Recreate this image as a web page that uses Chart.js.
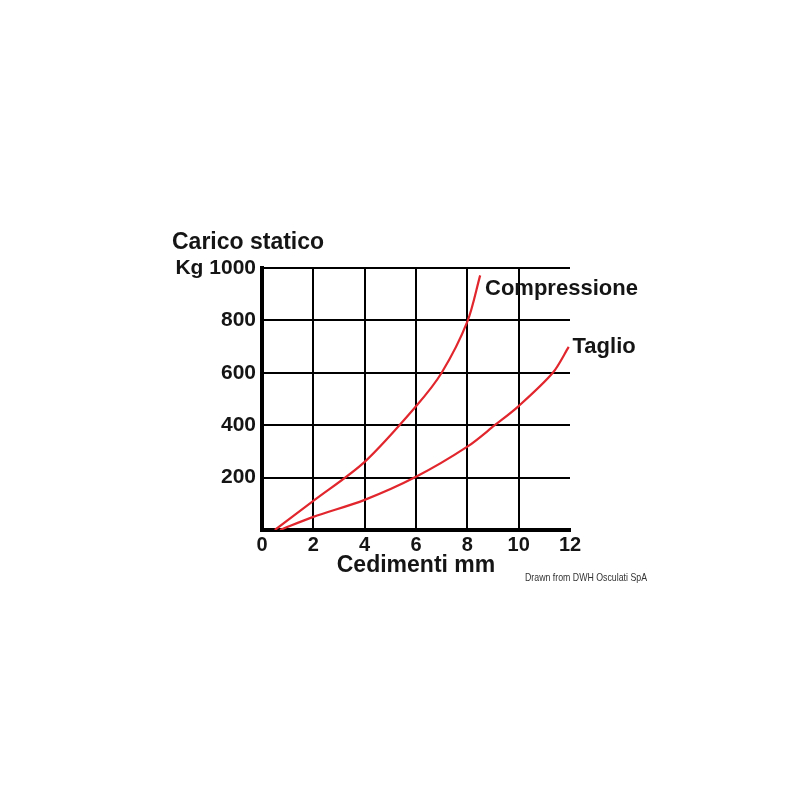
<!DOCTYPE html>
<html>
<head>
<meta charset="utf-8">
<script src="https://cdn.jsdelivr.net/npm/chart.js@4/dist/chart.umd.min.js"></script>
<style>
  html, body { margin: 0; padding: 0; background: #fff; }
  #wrap { width: 800px; height: 800px; }
</style>
</head>
<body>
<div id="wrap"><canvas id="chart" width="800" height="800"></canvas></div>
<script>
// settlement (mm) vs static load (kg)
const compressioneX = [0.5, 2, 4, 6, 7, 8, 8.5];
const compressioneY = [0, 111, 260, 472, 600, 795, 972];
const taglioX = [0.7, 2, 4, 6, 8, 9.07, 10, 11.33, 11.95];
const taglioY = [0, 50, 115, 203, 318, 400, 473, 600, 699];
const xTicks = [0, 2, 4, 6, 8, 10, 12];
const yTicks = [0, 200, 400, 600, 800, 1000];
const seriesNames = ['Compressione', 'Taglio'];

const RED = '#e1262d';
const INK = '#151515';
const FONT = "'Liberation Sans', Arial, sans-serif";

const toPoints = (xs, ys) => xs.map((x, i) => ({ x, y: ys[i] }));

// text that sits outside the plot: axis caption, curve names, credit
const annotations = {
    id: 'annotations',
    afterDraw(chart) {
        const { ctx, chartArea, scales } = chart;
        ctx.save();
        ctx.fillStyle = INK;
        ctx.textAlign = 'left';
        ctx.textBaseline = 'middle';
        ctx.font = `bold 23px ${FONT}`;
        ctx.fillText('Carico statico', chartArea.left - 90, chartArea.top - 25);

        ctx.font = `bold 22px ${FONT}`;
        ctx.fillText(seriesNames[0], scales.x.getPixelForValue(8.69), scales.y.getPixelForValue(920));
        ctx.fillText(seriesNames[1], scales.x.getPixelForValue(12.1), scales.y.getPixelForValue(698));

        // credit line is set in a condensed face, squeeze it to the same width
        const credit = 'Drawn from DWH Osculati SpA';
        ctx.font = `11px ${FONT}`;
        ctx.fillStyle = '#333';
        const w = ctx.measureText(credit).width;
        ctx.translate(525, 578);
        ctx.scale(122 / w, 1);
        ctx.fillText(credit, 0, 0);
        ctx.restore();
    }
};

new Chart(document.getElementById('chart'), {
    type: 'line',
    data: {
        datasets: [
            { label: seriesNames[0], data: toPoints(compressioneX, compressioneY) },
            { label: seriesNames[1], data: toPoints(taglioX, taglioY) }
        ]
    },
    options: {
        responsive: false,
        animation: false,
        layout: { padding: { left: 162, top: 268, right: 230, bottom: 217 } },
        elements: {
            line: { borderColor: RED, borderWidth: 2.2, tension: 0.3 },
            point: { radius: 0 }
        },
        plugins: { legend: { display: false }, tooltip: { enabled: false } },
        scales: {
            x: {
                type: 'linear', min: 0, max: 12,
                afterBuildTicks: s => { s.ticks = xTicks.map(v => ({ value: v })); },
                afterFit: s => { s.height = 53; },
                grid: { color: c => c.tick && c.tick.value === 12 ? 'rgba(0,0,0,0)' : '#000', lineWidth: 2, drawTicks: false },
                border: { display: true, color: '#000', width: 4 },
                ticks: { color: INK, padding: 3, font: { family: FONT, size: 20, weight: 'bold' } },
                title: { display: true, text: 'Cedimenti mm', color: INK, font: { family: FONT, size: 23, weight: 'bold' } }
            },
            y: {
                type: 'linear', min: 0, max: 1000,
                afterBuildTicks: s => { s.ticks = yTicks.map(v => ({ value: v })); },
                afterFit: s => { s.width = 100; },
                grid: { color: '#000', lineWidth: 2, drawTicks: false },
                border: { display: true, color: '#000', width: 4 },
                ticks: {
                    color: INK, padding: 6,
                    font: { family: FONT, size: 21, weight: 'bold' },
                    callback: v => v === 0 ? '' : (v === 1000 ? 'Kg 1000' : String(v))
                }
            }
        }
    },
    plugins: [annotations]
});
</script>
</body>
</html>
